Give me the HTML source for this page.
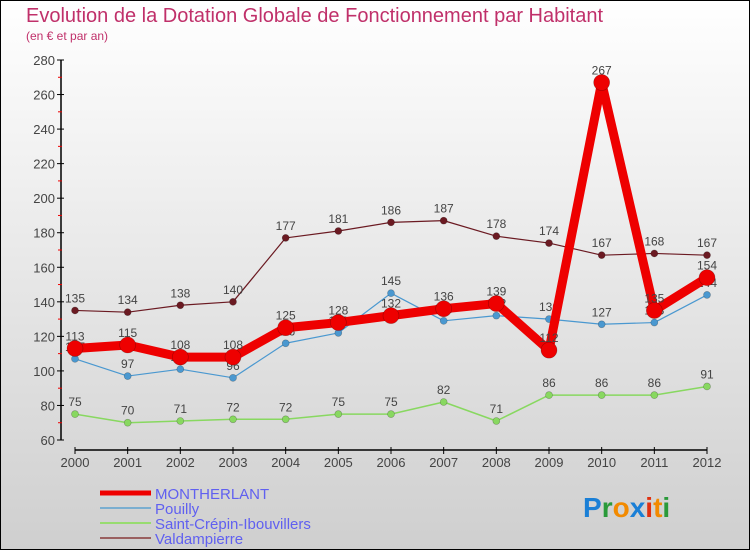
<!DOCTYPE html>
<html><head><meta charset="utf-8"><style>
body{margin:0;}
svg{display:block;font-family:"Liberation Sans",sans-serif;}
</style></head><body>
<svg width="750" height="550" viewBox="0 0 750 550">
<defs><linearGradient id="bg" x1="0" y1="0" x2="0" y2="1"><stop offset="0" stop-color="#ffffff"/><stop offset="1" stop-color="#cfcfcf"/></linearGradient></defs>
<rect x="0.5" y="0.5" width="749" height="549" fill="url(#bg)" stroke="#000"/>
<text x="26" y="22" font-size="20" fill="#c0306a">Evolution de la Dotation Globale de Fonctionnement par Habitant</text>
<text x="26" y="40" font-size="12" fill="#c0306a">(en € et par an)</text>
<g id="axes"></g>
<g id="series"></g>
<g id="legend"></g>
<text x="583" y="517" font-size="28" font-weight="bold"><tspan fill="#1a7fd6">P</tspan><tspan fill="#2a9a3a">r</tspan><tspan fill="#f28a00">o</tspan><tspan fill="#1a7fd6">x</tspan><tspan fill="#e03010">i</tspan><tspan fill="#f28a00">t</tspan><tspan fill="#2a9a3a">i</tspan></text>
</svg>
<script>
const years=[2000,2001,2002,2003,2004,2005,2006,2007,2008,2009,2010,2011,2012];
const montherlant=[113,115,108,108,125,128,132,136,139,112,267,135,154];
const pouilly=[107,97,101,96,116,122,145,129,132,130,127,128,144];
const saintCrepin=[75,70,71,72,72,75,75,82,71,86,86,86,91];
const valdampierre=[135,134,138,140,177,181,186,187,178,174,167,168,167];
const yTicks=[60,80,100,120,140,160,180,200,220,240,260,280];
const NS="http://www.w3.org/2000/svg";
const xs=i=>75+i*(707-75)/(years.length-1);
const ys=v=>440-(v-60)*(380/220);
function mk(tag,attrs,parent,txt){const e=document.createElementNS(NS,tag);for(const k in attrs)e.setAttribute(k,attrs[k]);if(txt!==undefined)e.textContent=txt;parent.appendChild(e);return e;}
const ax=document.getElementById('axes');
let l=mk('line',{x1:61,y1:60,x2:61,y2:440,stroke:'#000','stroke-width':1.5},ax);


yTicks.forEach(v=>{
 let t=mk('line',{x1:57,y1:ys(v),x2:64,y2:ys(v),stroke:'#000'},ax);
 
 
 let tx=mk('text',{x:55,y:ys(v)+5,'font-size':13,fill:'#444','text-anchor':'end'},ax,v);
 
 
 if(v<280){let r=mk('line',{x1:58,y1:ys(v+10),x2:62,y2:ys(v+10),stroke:'#e00'},ax);
 
 }
});
let xl=mk('line',{x1:75,y1:450,x2:707,y2:450,stroke:'#000','stroke-width':1.5},ax);


years.forEach((y,i)=>{
 let t=mk('line',{x1:xs(i),y1:447,x2:xs(i),y2:454,stroke:'#000'},ax);
 
 
 let tx=mk('text',{x:xs(i),y:467,'font-size':13,fill:'#444','text-anchor':'middle'},ax,y);
 
 
});
const sg=document.getElementById('series');
const series=[
 {name:'valdampierre',data:valdampierre,color:'#6b1a22',w:1.2,r:3.5},
 {name:'saint-crepin',data:saintCrepin,color:'#88d860',w:1.5,r:3.5},
 {name:'pouilly',data:pouilly,color:'#4a98d0',w:1.2,r:3.5},
 {name:'montherlant',data:montherlant,color:'#ee0000',w:9,r:8}
];
series.forEach(s=>{
 const g=mk('g',{},sg);
 
 
 const p=mk('polyline',{points:s.data.map((v,i)=>xs(i)+','+ys(v)).join(' '),fill:'none',stroke:s.color,'stroke-width':s.w,'stroke-linejoin':'round'},g);
 
 
 s.data.forEach((v,i)=>{
  const c=mk('circle',{cx:xs(i),cy:ys(v),r:s.r,fill:s.color,stroke:'rgba(0,0,0,0.3)','stroke-width':0.6},g);
  
  
  const t=mk('text',{x:xs(i),y:ys(v)-8,'font-size':12,fill:'#444','text-anchor':'middle'},g,v);
  
  
 });
});
const lg=document.getElementById('legend');
const leg=[['MONTHERLANT','#ee0000',5],['Pouilly','#7aaed0',2],['Saint-Crépin-Ibouvillers','#98dc70',2],['Valdampierre','#9a6060',2]];
leg.forEach((e,i)=>{
 const y=493+i*15;
 const g=mk('g',{},lg);
 
 
 mk('line',{x1:100,y1:y,x2:151,y2:y,stroke:e[1],'stroke-width':e[2]},g);
 mk('text',{x:155,y:y+6,'font-size':15,fill:'#6060f0'},g,e[0]);
});
</script>
</body></html>
